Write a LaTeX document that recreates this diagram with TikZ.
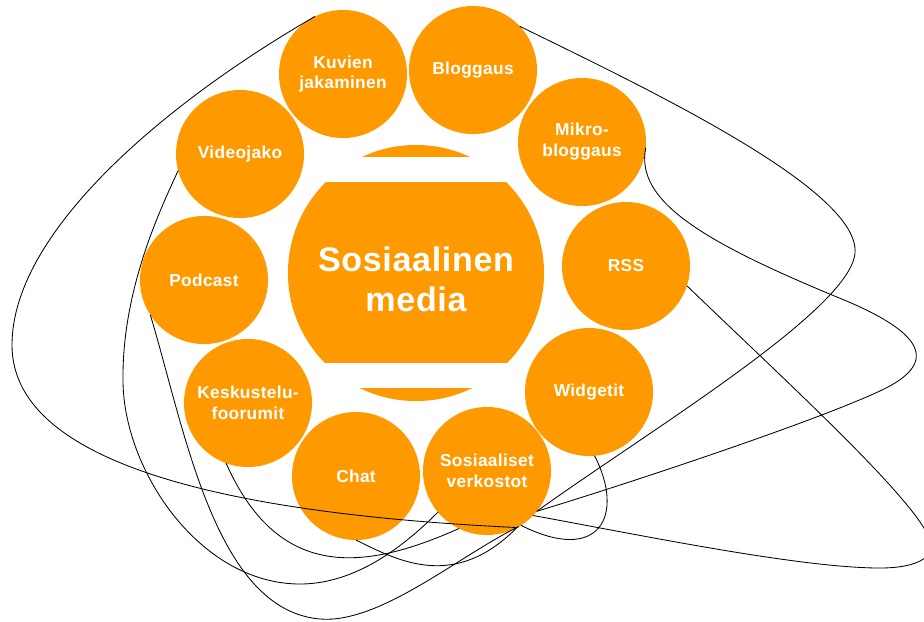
\documentclass[tikz,border=0pt]{standalone}
\usepackage{fontspec}
\setmainfont{Liberation Sans}
\usepackage{xcolor}
\usepackage{tikz}
\definecolor{somorange}{RGB}{255,153,0}

\begin{document}
\begin{tikzpicture}[x=0.025cm,y=-0.025cm,
  bubble/.style={circle,fill=somorange,text=white,align=center,
    font=\bfseries\fontsize{12.3}{14.9}\selectfont\addfontfeature{LetterSpace=2},
    minimum size=3.2cm,inner sep=0pt,outer sep=0pt},
  hub/.style={circle,fill=somorange,text=white,align=center,
    font=\bfseries\fontsize{24.2}{28.5}\selectfont\addfontfeature{LetterSpace=2},
    minimum size=6.4cm,inner sep=0pt,outer sep=0pt},
  link/.style={black,line width=0.6pt}]

\useasboundingbox (0,0) rectangle (924,621);

% Centre circle, cut by two white bands
\node[hub] (media) at (416,273) {\rule{0pt}{26pt}Sosiaalinen\\media};
\fill[white] (285,157) rectangle (547,182);
\fill[white] (285,363) rectangle (547,388);

% Ring of topics
\node[bubble] (kuvat) at (343,74) {Kuvien\\jakaminen};
\node[bubble] (blogi) at (473,70) {Bloggaus};
\node[bubble] (mikro) at (582,142) {Mikro-\\bloggaus};
\node[bubble] (rss) at (626,266) {RSS};
\node[bubble] (widget) at (589,392) {Widgetit};
\node[bubble] (verkosto) at (487,471) {Sosiaaliset\\verkostot};
\node[bubble] (chat) at (356,476) {Chat};
\node[bubble] (foorumi) at (248,403) {Keskustelu-\\foorumit};
\node[bubble] (podcast) at (204,280) {Podcast};
\node[bubble] (video) at (240,154) {Videojako};

% Left side links
\draw[link] (kuvat.116) .. controls (170,100) and (12,230) .. (12,345)
  .. controls (12,470) and (250,515) .. (verkosto.-62);
\draw[link] (video.-165) .. controls (160,210) and (122,290) .. (123,380)
  .. controls (123,470) and (200,584) .. (300,584)
  .. controls (360,584) and (410,540) .. (verkosto.-140);
\draw[link] (podcast.-147) .. controls (185,430) and (215,610) .. (320,619)
  .. controls (380,624) and (460,555) .. (verkosto.-60);
\draw[link] (foorumi.-110) .. controls (280,585) and (370,568) .. (verkosto.-116);
\draw[link] (chat.-90) .. controls (400,562) and (455,590) .. (verkosto.-62);

% Right side links
\draw[link] (widget.-85) .. controls (625,515) and (600,565) .. (verkosto.-58);
\draw[link] (rss.-18) .. controls (790,385) and (905,490) .. (928,535)
  .. controls (940,558) and (915,568) .. (880,568)
  .. controls (800,568) and (640,535) .. (verkosto.-44);
\draw[link] (mikro.-5) .. controls (635,200) and (700,240) .. (832,295)
  .. controls (900,322) and (945,352) .. (895,383)
  .. controls (855,408) and (640,480) .. (verkosto.-39);
\draw[link] (blogi.43) .. controls (650,90) and (860,190) .. (855,253)
  .. controls (850,310) and (650,430) .. (verkosto.-39);

\end{tikzpicture}
\end{document}
